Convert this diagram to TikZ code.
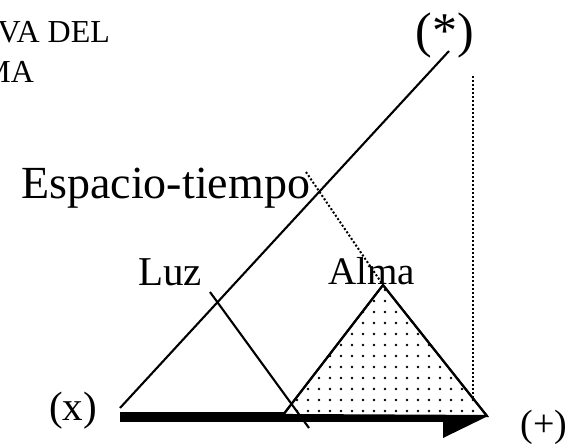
\documentclass[tikz,border=0pt]{standalone}
\usepackage{fontspec}
\setmainfont{Liberation Serif}
\usetikzlibrary{arrows.meta,patterns.meta}
\begin{document}
\begin{tikzpicture}[x=1pt,y=-1pt,line width=2.1pt,
  punteado/.style={line width=2pt,dash pattern=on 2pt off 2pt},
  texto/.style={inner sep=0pt,font=\fontsize{#1}{#1}\selectfont}]
  \useasboundingbox (0,0) rectangle (568,444);
  \coordinate (origen) at (120,417);
  \coordinate (fin) at (486,417);
  \coordinate (base) at (120,408);
  \coordinate (cima) at (449,51);
  \coordinate (izq) at (283,415);
  \coordinate (pico) at (383,285);
  \coordinate (der) at (487,416);
  \node[texto=32,anchor=base east] (vadel) at (111,43) {VA DEL};
  \node[texto=32,anchor=base east] (ma) at (35,82) {MA};
  \node[texto=46,anchor=base east] (espacio) at (311,198) {Espacio-tiempo};
  \node[texto=41,anchor=base west] (luz) at (137,285) {Luz};
  \node[texto=39,anchor=base west] (alma) at (327,284) {Alma};
  \node[texto=50,anchor=base] (ast) at (445,48) {(*)};
  \node[texto=41,anchor=base east] (xlab) at (98,420) {(x)};
  \node[texto=38,anchor=base] (mas) at (544,436) {(+)};
  \draw (base) -- (cima);
  \draw[line width=10pt,-{Triangle[length=43pt,width=42pt,line width=0pt]}] (origen) -- (fin);
  \filldraw[fill=white] (izq) -- (pico) -- (der) -- cycle;
  \fill[pattern={Dots[distance=11pt,radius=1.3pt]}] (izq) -- (pico) -- (der) -- cycle;
  \draw (izq) -- (pico) -- (der);
  \draw (210,292) coordinate (luza) -- (309,428) coordinate (luzb);
  \draw[punteado] (306,172) coordinate (esp) -- (pico);
  \draw[punteado] (473,76) coordinate (vert) -- (473,398);
\end{tikzpicture}
\end{document}
